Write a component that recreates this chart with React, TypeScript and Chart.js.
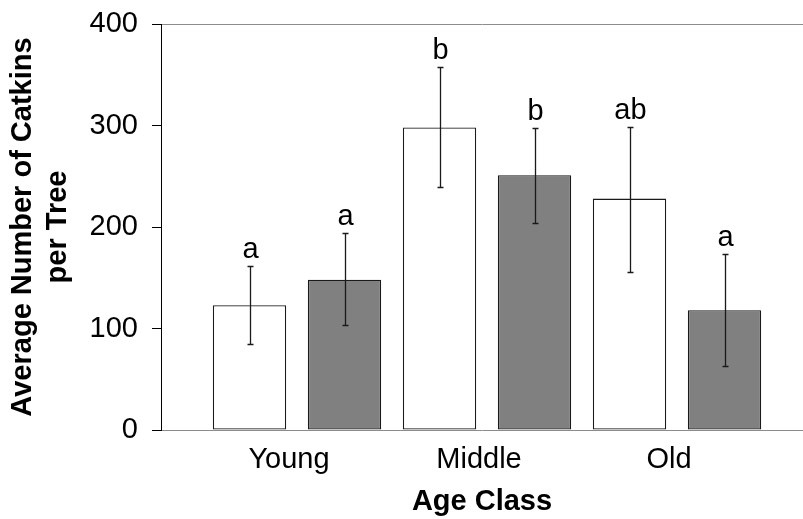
import React, { useEffect, useRef } from "react";
import { Chart, registerables } from "chart.js";

Chart.register(...registerables);

const categories = ["Young", "Middle", "Old"];
const whiteMeans = [123, 298, 228];
const greyMeans = [148, 251, 118];
const whiteErrLow = [85, 239, 156];
const whiteErrHigh = [162, 358, 299];
const greyErrLow = [103, 204, 63];
const greyErrHigh = [194, 298, 173];
const whiteLetters = ["a", "b", "ab"];
const greyLetters = ["a", "b", "a"];
const yTicks = [0, 100, 200, 300, 400];

const FAMILY = '"Liberation Sans", Arial, sans-serif';

const errorBarPlugin = {
  id: "errorBars",
  afterDatasetsDraw(chart: any) {
    const ctx = chart.ctx;
    const yScale = chart.scales.y;
    chart.data.datasets.forEach((ds: any, di: number) => {
      const meta = chart.getDatasetMeta(di);
      meta.data.forEach((bar: any, i: number) => {
        const x = Math.round(bar.x) + 0.5;
        const yLo = Math.round(yScale.getPixelForValue(ds.errLow[i])) + 0.5;
        const yHi = Math.round(yScale.getPixelForValue(ds.errHigh[i])) + 0.5;
        ctx.save();
        ctx.strokeStyle = "#1a1a1a";
        ctx.lineWidth = 1.3;
        ctx.beginPath();
        ctx.moveTo(x, yLo);
        ctx.lineTo(x, yHi);
        ctx.moveTo(x - 3, yLo);
        ctx.lineTo(x + 3, yLo);
        ctx.moveTo(x - 3, yHi);
        ctx.lineTo(x + 3, yHi);
        ctx.stroke();
        ctx.font = `29px ${FAMILY}`;
        ctx.textAlign = "center";
        ctx.textBaseline = "alphabetic";
        ctx.fillStyle = "#000";
        ctx.fillText(ds.letters[i], x, yHi - 9);
        ctx.restore();
      });
    });
  },
};

export default function App() {
  const canvasRef = useRef<HTMLCanvasElement | null>(null);

  useEffect(() => {
    if (!canvasRef.current) return;
    const chart = new Chart(canvasRef.current, {
      type: "bar",
      data: {
        datasets: [
          {
            label: "White",
            data: categories.map((_, i) => ({ x: i, y: whiteMeans[i] })),
            backgroundColor: "#ffffff",
            borderColor: "#1a1a1a",
            borderWidth: 1.3,
            borderSkipped: false,
            categoryPercentage: 1,
            barPercentage: 0.772,
            errLow: whiteErrLow,
            errHigh: whiteErrHigh,
            letters: whiteLetters,
          } as any,
          {
            label: "Grey",
            data: categories.map((_, i) => ({ x: i, y: greyMeans[i] })),
            backgroundColor: "#808080",
            borderColor: "#1a1a1a",
            borderWidth: 1.3,
            borderSkipped: false,
            categoryPercentage: 1,
            barPercentage: 0.772,
            errLow: greyErrLow,
            errHigh: greyErrHigh,
            letters: greyLetters,
          } as any,
        ],
      },
      options: {
        animation: false,
        responsive: true,
        maintainAspectRatio: false,
        layout: { padding: { top: 24, right: 0, bottom: 0, left: 0 } },
        plugins: {
          legend: { display: false },
          tooltip: { enabled: false },
        },
        scales: {
          x: {
            type: "linear",
            offset: false,
            bounds: "data",
            min: -0.7158,
            max: 2.663,
            afterBuildTicks: (s: any) => {
              s.ticks = categories.map((_, i) => ({ value: i }));
            },
            ticks: {
              callback: (v: any) => categories[Math.round(Number(v))] ?? "",
              font: { size: 29, family: FAMILY },
              color: "#000",
              padding: 13,
              labelOffset: -8,
              autoSkip: false,
              maxRotation: 0,
              minRotation: 0,
            },
            grid: { display: false, drawTicks: false, offset: false },
            border: { display: true, color: "#8c8c8c", width: 1 },
            title: {
              display: true,
              text: "Age Class",
              font: { size: 29, weight: "bold", family: FAMILY },
              color: "#000",
              padding: { top: 0, bottom: 0 },
            },
            afterFit: (s: any) => {
              s.height = 89;
              s.paddingLeft = 0;
              s.paddingRight = 0;
            },
          } as any,
          y: {
            min: 0,
            max: 400,
            afterBuildTicks: (s: any) => {
              s.ticks = yTicks.map((v) => ({ value: v }));
            },
            ticks: {
              font: { size: 29, family: FAMILY },
              color: "#000",
              padding: 14,
            },
            grid: {
              color: (c: any) =>
                c.tick && c.tick.value === 400 ? "#8c8c8c" : "rgba(0,0,0,0)",
              tickColor: "#000",
              tickLength: 9,
              drawTicks: true,
              lineWidth: 1,
            },
            border: { display: true, color: "#000", width: 1 },
            title: {
              display: true,
              text: ["Average Number of Catkins", "per Tree"],
              font: { size: 29, weight: "bold", family: FAMILY, lineHeight: 1.21 },
              color: "#000",
              padding: { top: 5, bottom: 0 },
            },
            afterFit: (s: any) => {
              s.width = 161;
              s.paddingTop = 0;
              s.paddingBottom = 0;
            },
          } as any,
        },
      },
      plugins: [errorBarPlugin],
    });
    return () => chart.destroy();
  }, []);

  return (
    <div
      style={{
        position: "fixed",
        left: 0,
        top: 0,
        width: 803,
        height: 519,
        background: "#fff",
      }}
    >
      <canvas ref={canvasRef} />
    </div>
  );
}
